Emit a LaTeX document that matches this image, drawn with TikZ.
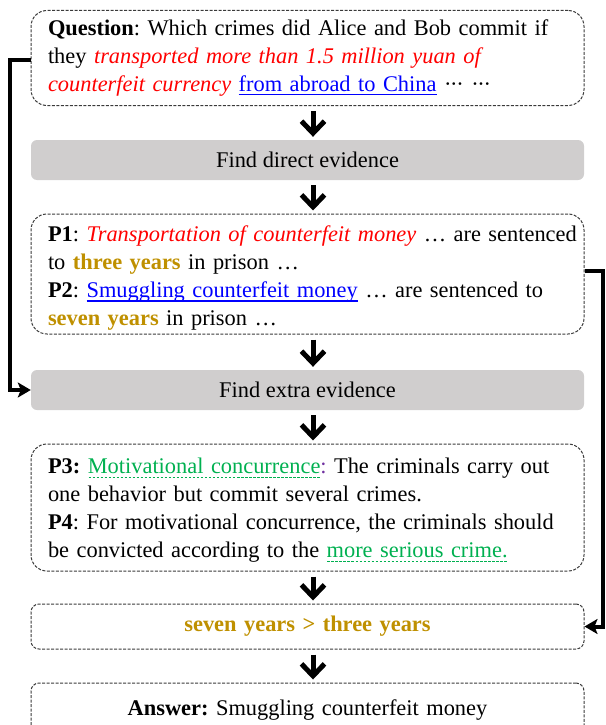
\documentclass[tikz,border=0pt]{standalone}
\usepackage{fontspec}
\setmainfont{Liberation Serif}
\usetikzlibrary{arrows.meta,calc}
\definecolor{boxgray}{HTML}{D0CECE}
\definecolor{gold}{HTML}{BF9000}
\definecolor{grn}{HTML}{00B050}
\definecolor{purp}{HTML}{7030A0}
\definecolor{bordergray}{HTML}{3A3A3A}
\frenchspacing
\newcommand\solidul[1]{\setbox0\hbox{#1}\rlap{\raisebox{-4pt}{\rule{\wd0}{1.3pt}}}\box0}
\newcommand\gdash[1]{\setbox0\hbox{#1}\rlap{\raisebox{-4.5pt}{\hbox to \wd0{\xleaders\hbox to 4pt{\hss\rule{2.6pt}{0.9pt}\hss}\hfill}}}\box0}
\newcommand\mdots{·\kern-1.3pt·\kern-1.3pt·}
\begin{document}
\begin{tikzpicture}[x=1pt,y=-1pt,
  txt/.style={font=\fontsize{22.4}{28}\selectfont},
  dbox/.style={draw=bordergray, line width=1pt, dash pattern=on 3pt off 1.5pt,
    rounded corners=16pt, minimum width=553pt, text width=519pt,
    inner xsep=17pt, inner ysep=0pt, align=left, txt},
  gbox/.style={fill=boxgray, rounded corners=6pt, minimum width=553pt,
    inner sep=0pt, txt},
  downarr/.style={line width=5pt, -{Straight Barb[length=12pt,width=23pt]}},
  sidearr/.style={line width=4pt, -{Stealth[length=13pt,width=15pt,inset=3pt]}},
]
\useasboundingbox (0,0) rectangle (605,725);

\node[dbox, minimum height=95pt] (q) at (307.5,58)
 {\mbox{\textbf{Question}: Which crimes did Alice and Bob commit if}\\
  \mbox{they \textcolor{red}{\itshape transported more than 1.5 million yuan of}}\\
  \mbox{\textcolor{red}{\itshape counterfeit currency} \textcolor{blue}{\solidul{from abroad to China}} \mdots\ \mdots}};

\node[gbox, minimum height=40pt] (g1) at (307.5,160) {Find direct evidence};

\node[dbox, minimum height=120pt] (p12) at (307.5,274)
 {\rule{0pt}{24pt}\mbox{\textbf{P1}: \textcolor{red}{\itshape Transportation of counterfeit money} … are sentenced}\\
  \mbox{to \textcolor{gold}{\bfseries three years} in prison …}\\
  \mbox{\textbf{P2}: \textcolor{blue}{\solidul{Smuggling counterfeit money}} … are sentenced to}\\
  \mbox{\textcolor{gold}{\bfseries seven years} in prison …}};

\node[gbox, minimum height=40pt] (g2) at (307.5,390) {Find extra evidence};

\node[dbox, minimum height=127pt] (p34) at (307.5,507.5)
 {\rule{0pt}{21pt}\mbox{\textbf{P3:} \textcolor{grn}{\gdash{Motivational concurrence}}\textcolor{purp}{:} The criminals carry out}\\
  \mbox{one behavior but commit several crimes.}\\
  \mbox{\textbf{P4}: For motivational concurrence, the criminals should}\\
  \mbox{be convicted according to the \textcolor{grn}{\gdash{more serious crime.}}}};

\node[dbox, rounded corners=8pt, minimum height=45pt, align=center] (sev) at (307.5,626.5)
 {\textcolor{gold}{\bfseries seven years > three years}};

\node[dbox, rounded corners=8pt, minimum height=54pt, align=center] (ans) at (307.5,710)
 {\textbf{Answer:} Smuggling counterfeit money};

\foreach \a/\b in {q/g1,g1/p12,p12/g2,g2/p34,p34/sev,sev/ans}
  \draw[downarr, shorten <=5pt, shorten >=3pt] ([xshift=5.5pt]\a.south) -- ([xshift=5.5pt]\b.north);

\draw[sidearr] ([yshift=-2.5pt]q.west) -- ++(-20.5,0) |- (g2.west);
\draw[sidearr] ([yshift=3pt]p12.east) -- ++(18,0) |- (sev.east);
\end{tikzpicture}
\end{document}
